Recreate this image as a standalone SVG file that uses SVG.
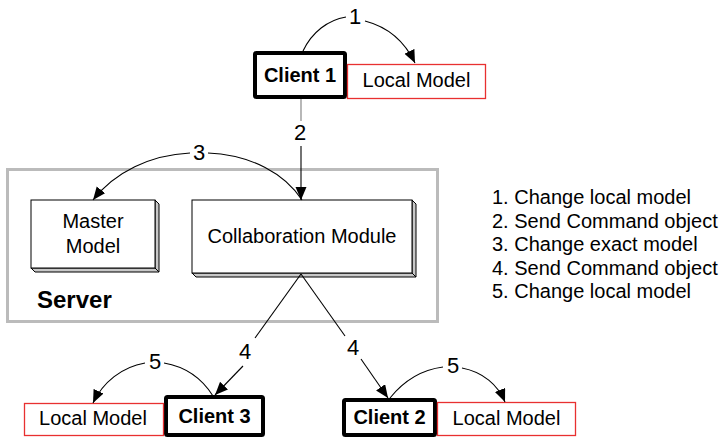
<svg xmlns="http://www.w3.org/2000/svg" width="726" height="440" viewBox="0 0 726 440">
  <style>
    .txt { font-family: "Liberation Sans", Arial, sans-serif; font-size: 20px; fill: #000; }
    .bold { font-weight: bold; }
    .big { font-size: 24px; }
    .num { font-family: "Liberation Sans", Arial, sans-serif; font-size: 22px; fill: #000; text-anchor: middle; }
    .mid { text-anchor: middle; }
    .client { fill: #fff; stroke: #000; stroke-width: 4; }
    .local { fill: #fff; stroke: #e83030; stroke-width: 1.3; }
    .face { fill: #fff; stroke: #000; stroke-width: 1; }
    .side { fill: #c8c8c8; stroke: #000; stroke-width: 1; }
    .edge { fill: none; stroke: #000; stroke-width: 1.1; }
  </style>
  <defs>
    <marker id="arrow" markerUnits="userSpaceOnUse" markerWidth="14" markerHeight="12" refX="13" refY="5.5" orient="auto">
      <path d="M0,0 L13,5.5 L0,11 Z" fill="#000"/>
    </marker>
  </defs>

  <rect width="726" height="440" fill="#fff"/>

  <!-- server container -->
  <g id="server">
    <rect x="7.5" y="169.5" width="430" height="152" fill="none" stroke="#bbb" stroke-width="3"/>
    <text class="txt bold big" x="37" y="308">Server</text>
  </g>

  <g id="master-model">
    <polygon class="side" points="155,200 159,204 159,272 155,268"/>
    <polygon class="side" points="31,268 155,268 159,272 35,272"/>
    <rect class="face" x="31" y="200" width="124" height="68"/>
    <text class="txt mid" x="93" y="228">Master</text>
    <text class="txt mid" x="93" y="253">Model</text>
  </g>

  <g id="collaboration-module">
    <polygon class="side" points="412,200 416,204 416,277 412,273"/>
    <polygon class="side" points="192,273 412,273 416,277 196,277"/>
    <rect class="face" x="192" y="200" width="220" height="73"/>
    <text class="txt mid" x="302" y="243">Collaboration Module</text>
  </g>

  <g id="client-1">
    <rect class="client" x="255" y="53" width="90" height="44" rx="1.5"/>
    <text class="txt bold mid" x="300" y="82">Client 1</text>
  </g>
  <g id="local-model-1">
    <rect class="local" x="347.5" y="64.5" width="138" height="34"/>
    <text class="txt mid" x="416.5" y="87">Local Model</text>
  </g>

  <g id="client-3">
    <rect class="client" x="166" y="397" width="97" height="38" rx="1.5"/>
    <text class="txt bold mid" x="214.5" y="423">Client 3</text>
  </g>
  <g id="local-model-3">
    <rect class="local" x="24.5" y="403.5" width="139" height="32"/>
    <text class="txt mid" x="93" y="425">Local Model</text>
  </g>

  <g id="client-2">
    <rect class="client" x="344" y="400" width="91" height="35" rx="1.5"/>
    <text class="txt bold mid" x="389.5" y="424">Client 2</text>
  </g>
  <g id="local-model-2">
    <rect class="local" x="437.5" y="402.5" width="138" height="33"/>
    <text class="txt mid" x="506.5" y="425">Local Model</text>
  </g>

  <!-- connectors -->
  <g id="connectors">
    <!-- 1: client 1 changes its local model -->
    <path class="edge" d="M303,51 C312,32 328,20 346,17"/>
    <path class="edge" d="M365,21 C388,27 405,42 415,63" marker-end="url(#arrow)"/>
    <text class="num" x="355" y="24">1</text>

    <!-- 2: command object to the collaboration module -->
    <line x1="301" y1="99" x2="301" y2="121" stroke="#888" stroke-width="1.2"/>
    <line class="edge" x1="301" y1="146" x2="301" y2="200" marker-end="url(#arrow)"/>
    <text class="num" x="300" y="140">2</text>

    <!-- 3: collaboration module changes master model -->
    <path class="edge" d="M302,200 C285,174 252,155 208,153"/>
    <path class="edge" d="M190,153 C150,155 115,172 93,200" marker-end="url(#arrow)"/>
    <text class="num" x="199" y="160">3</text>

    <!-- 4: command objects out to clients 3 and 2 -->
    <line class="edge" x1="301" y1="274" x2="255" y2="338"/>
    <line class="edge" x1="243" y1="366" x2="215" y2="395" marker-end="url(#arrow)"/>
    <text class="num" x="245" y="359">4</text>
    <line class="edge" x1="301" y1="274" x2="345" y2="336"/>
    <line class="edge" x1="361" y1="359" x2="388" y2="398" marker-end="url(#arrow)"/>
    <text class="num" x="353" y="355">4</text>

    <!-- 5: clients change their local models -->
    <path class="edge" d="M213,396 C203,380 187,367 164,363"/>
    <path class="edge" d="M145,363 C122,367 103,382 93,403" marker-end="url(#arrow)"/>
    <text class="num" x="155" y="369">5</text>
    <path class="edge" d="M390,398 C402,383 420,370 443,367"/>
    <path class="edge" d="M462,368 C483,372 498,385 505,402" marker-end="url(#arrow)"/>
    <text class="num" x="453" y="373">5</text>
  </g>

  <!-- legend -->
  <g id="legend" class="txt">
    <text x="492" y="204">1. Change local model</text>
    <text x="492" y="227.5">2. Send Command object</text>
    <text x="492" y="251">3. Change exact model</text>
    <text x="492" y="274.5">4. Send Command object</text>
    <text x="492" y="298">5. Change local model</text>
  </g>
</svg>
